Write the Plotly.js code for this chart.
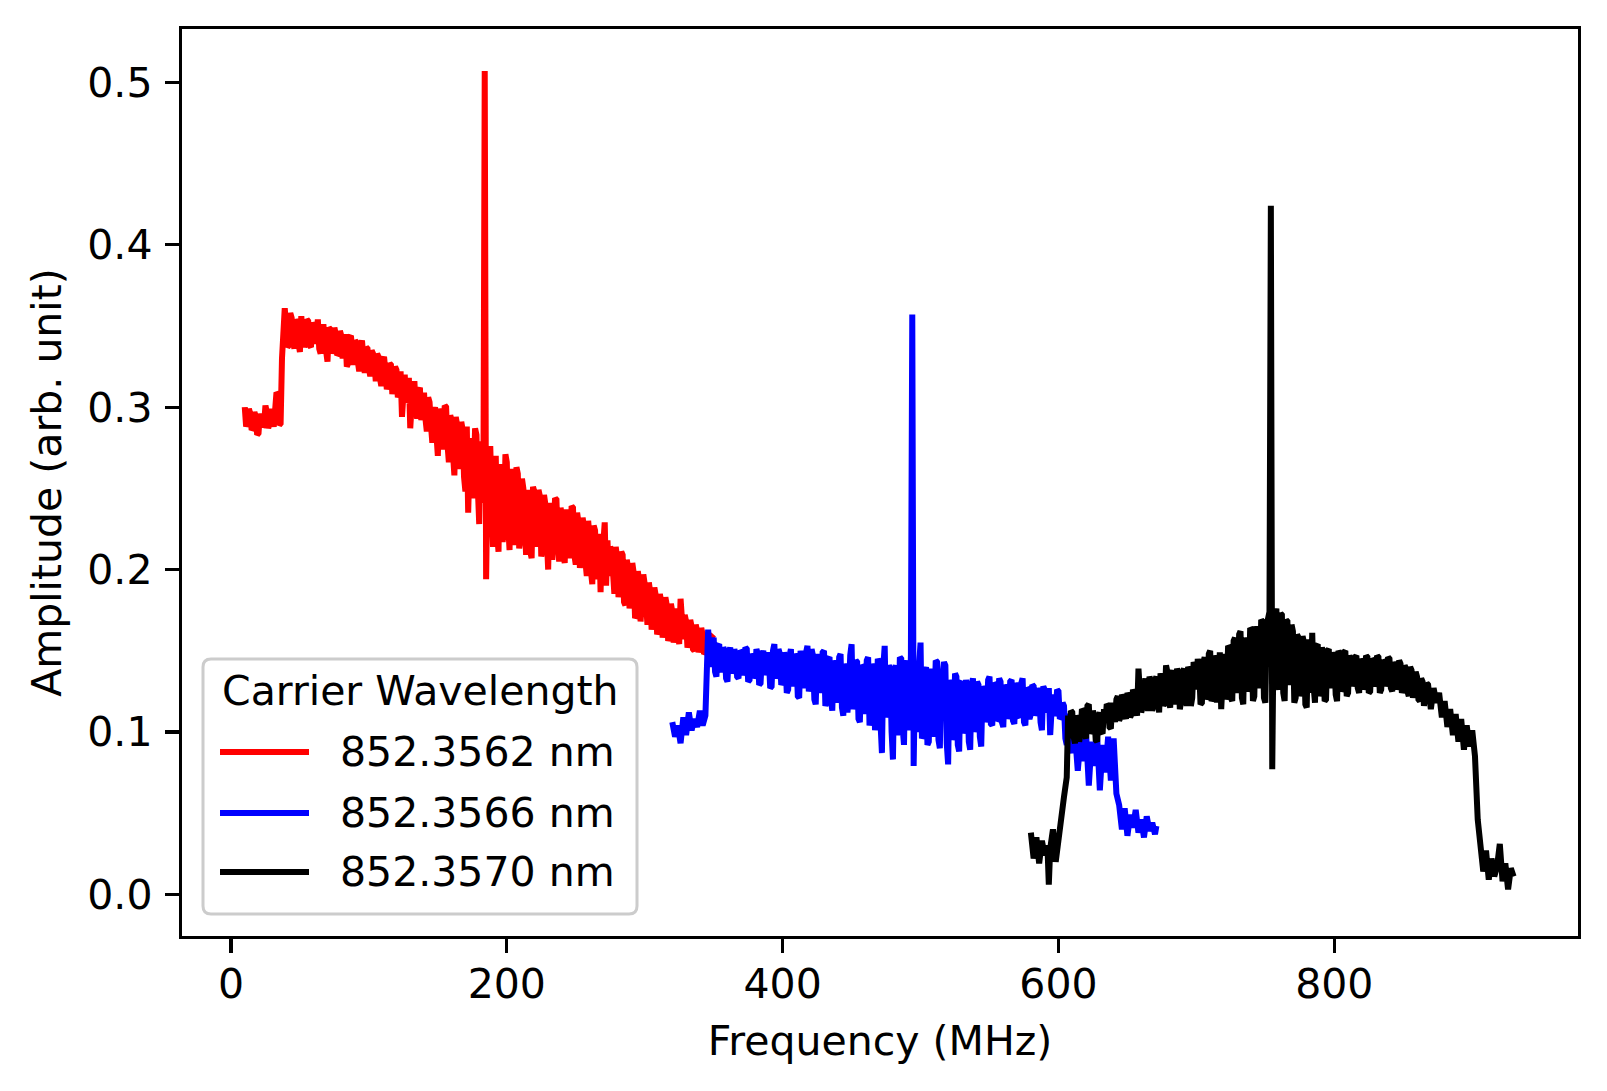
<!DOCTYPE html>
<html>
<head>
<meta charset="utf-8">
<script src="https://cdn.plot.ly/plotly-3.0.1.min.js"></script>
<style>
  html, body { margin: 0; padding: 0; background: #ffffff; }
  #chart { width: 1607px; height: 1091px; }
</style>
</head>
<body>
<div id="chart"></div>
<script>
// ---- data ----
var seriesNames = ["852.3562 nm", "852.3566 nm", "852.3570 nm"];
var seriesColors = ["#ff0000", "#0000ff", "#000000"];
var legendTitle = "Carrier Wavelength";
var xTitle = "Frequency (MHz)";
var yTitle = "Amplitude (arb. unit)";
var xTickVals = [0, 200, 400, 600, 800];
var yTickVals = [0.0, 0.1, 0.2, 0.3, 0.4, 0.5];

var redFreq = [
  10,11,12,13,14,15,16,17,18,19,
  20,21,22,23,24,25,26,27,28,29,
  30,31,32,33,34,35,36,37,
  38,39,40,41,42,43,44,45,46,47,
  48,49,50,51,52,53,54,55,56,57,
  58,59,60,61,62,63,64,65,66,67,
  68,69,70,71,72,73,74,75,76,77,
  78,79,80,81,82,83,84,85,86,87,
  88,89,90,91,92,93,94,95,96,97,
  98,99,100,101,102,103,104,105,106,107,
  108,109,110,111,112,113,114,115,116,117,
  118,119,120,121,122,123,124,125,126,127,
  128,129,130,131,132,133,134,135,136,137,138,
  139,140,141,142,143,144,145,146,147,148,
  149,150,151,152,153,154,155,156,157,158,
  159,160,161,162,163,164,165,166,167,168,
  169,170,171,172,173,174,175,176,177,178,
  179,180,181,182,183,
  184,185,
  186,187,188,189,190,191,192,193,194,195,
  196,197,198,199,200,201,202,203,204,205,
  206,207,208,209,210,211,212,213,214,215,
  216,217,218,219,220,221,222,223,224,225,
  226,227,228,229,230,231,232,233,234,235,
  236,237,238,239,240,241,242,243,244,245,
  246,247,248,249,250,251,252,253,254,255,
  256,257,258,259,260,261,262,263,264,265,
  266,267,268,269,270,271,272,273,274,275,
  276,277,278,279,280,281,282,283,284,285,
  286,287,288,289,290,291,292,293,294,295,
  296,297,298,299,300,301,302,303,304,305,
  306,307,308,309,310,311,312,313,314,315,
  316,317,318,319,320,321,322,323,324,325,
  326,327,328,329,330,331,332,333,334,335,
  336,337,338,339,340,341,342,343,344,345,
  346,347,348,349,350
];
var redAmp = [
  0.300,0.288,0.291,0.299,0.296,0.286,0.287,0.297,0.294,0.283,
  0.284,0.296,0.293,0.288,0.289,0.301,0.297,0.287,0.290,0.299,
  0.292,0.288,0.298,0.309,0.308,0.289,0.290,0.330,
  0.357,0.361,0.350,0.337,0.338,0.358,0.355,0.341,0.336,0.354,
  0.352,0.339,0.334,0.356,0.349,0.337,0.340,0.354,0.353,0.338,
  0.337,0.352,0.350,0.339,0.352,0.354,0.336,0.333,0.347,0.351,
  0.341,0.334,0.328,0.349,0.348,0.333,0.337,0.349,0.345,0.332,
  0.333,0.347,0.344,0.330,0.339,0.345,0.325,0.327,0.343,0.344,
  0.334,0.326,0.341,0.340,0.328,0.322,0.338,0.341,0.331,0.321,
  0.337,0.336,0.324,0.319,0.335,0.333,0.327,0.316,0.333,0.331,
  0.318,0.313,0.329,0.331,0.322,0.311,0.314,0.327,0.326,0.308,
  0.317,0.325,0.323,0.306,0.309,0.322,0.294,0.318,0.320,0.303,
  0.305,0.318,0.287,0.301,0.314,0.316,0.299,0.293,0.310,0.312,0.292,
  0.298,0.309,0.293,0.285,0.306,0.303,0.289,0.278,0.296,0.300,
  0.283,0.270,0.299,0.296,0.274,0.282,0.301,0.300,0.277,0.266,
  0.295,0.292,0.271,0.258,0.294,0.289,0.268,0.262,0.291,0.286,
  0.257,0.248,0.288,0.235,0.266,0.281,0.244,0.252,0.287,0.283,
  0.250,0.228,0.279,0.262,0.241,
  0.507,0.194,
  0.255,0.231,0.276,0.248,0.214,0.262,0.270,0.222,0.211,0.265,
  0.258,0.217,0.226,0.271,0.266,0.228,0.212,0.262,0.255,0.215,
  0.234,0.263,0.259,0.213,0.219,0.256,0.250,0.226,0.209,0.249,
  0.242,0.211,0.207,0.251,0.248,0.214,0.229,0.249,0.245,0.208,
  0.213,0.246,0.240,0.218,0.200,0.241,0.236,0.206,0.219,0.244,
  0.243,0.215,0.205,0.238,0.233,0.210,0.204,0.237,0.230,0.207,
  0.215,0.239,0.238,0.209,0.203,0.235,0.229,0.201,0.211,0.232,
  0.226,0.205,0.196,0.230,0.220,0.199,0.191,0.227,0.224,0.194,
  0.205,0.222,0.186,0.219,0.216,0.229,0.190,0.218,0.196,0.214,
  0.212,0.188,0.185,0.214,0.207,0.183,0.190,0.211,0.209,0.180,
  0.178,0.206,0.201,0.176,0.183,0.204,0.198,0.170,0.172,0.199,
  0.193,0.168,0.179,0.197,0.191,0.167,0.166,0.192,0.186,0.163,
  0.171,0.189,0.184,0.160,0.163,0.185,0.180,0.158,0.168,0.183,
  0.178,0.156,0.159,0.179,0.174,0.155,0.162,0.176,0.170,0.154,
  0.182,0.160,0.157,0.172,0.168,0.152,0.155,0.169,0.165,0.151,
  0.150,0.166,0.162,0.149,0.153,0.164,0.160,0.148,0.149,0.161,
  0.158,0.150,0.152,0.159,0.160
];

var blueFreq = [
  320,322,324,326,328,330,332,334,336,338,
  340,342,344,
  346,347,348,349,350,351,352,353,354,355,
  356,357,358,359,360,361,362,363,364,365,
  366,367,368,369,370,371,372,373,374,375,
  376,377,378,379,380,381,382,383,384,385,
  386,387,388,389,390,391,392,393,394,395,
  396,397,398,399,
  400,401,402,403,404,405,406,407,408,409,
  410,411,412,413,414,415,416,417,418,419,
  420,421,422,423,424,425,426,427,428,429,
  430,431,432,433,434,435,436,437,438,439,
  440,441,442,443,444,445,446,447,448,449,
  450,451,452,453,454,455,456,457,458,459,
  460,461,462,463,464,465,466,467,468,469,
  470,471,472,473,474,475,476,477,478,479,
  480,481,482,483,484,485,486,487,488,489,
  490,491,492,493,
  494,495,
  496,497,498,499,500,501,502,503,504,505,
  506,507,508,509,510,511,512,513,514,515,
  516,517,518,519,520,521,522,523,524,525,
  526,527,528,529,530,531,532,533,534,535,
  536,537,538,539,540,541,542,543,544,545,
  546,547,548,549,550,551,552,553,554,555,
  556,557,558,559,560,561,562,563,564,565,
  566,567,568,569,570,571,572,573,574,575,
  576,577,578,579,580,581,582,583,584,585,
  586,587,588,589,590,591,592,593,594,595,
  596,597,598,599,600,601,602,603,604,605,
  606,607,608,609,610,611,612,
  614,616,618,620,622,624,626,628,630,632,
  634,636,638,640,642,644,646,648,650,652,
  654,656,658,660,662,664,666,668,670,
  671
];
var blueAmp = [
  0.106,0.097,0.104,0.093,0.109,0.098,0.112,0.101,0.108,0.103,
  0.113,0.104,0.110,
  0.163,0.150,0.140,0.155,0.158,0.137,0.134,0.153,0.154,0.139,
  0.137,0.152,0.150,0.133,0.131,0.149,0.152,0.136,0.139,0.151,
  0.147,0.134,0.133,0.150,0.149,0.135,0.138,0.152,0.151,0.131,
  0.132,0.148,0.146,0.133,0.136,0.151,0.148,0.129,0.130,0.147,
  0.150,0.135,0.139,0.149,0.145,0.127,0.128,0.150,0.154,0.133,
  0.136,0.151,0.148,0.129,
  0.131,0.149,0.145,0.124,0.126,0.147,0.151,0.128,0.134,0.148,
  0.146,0.122,0.121,0.150,0.144,0.127,0.132,0.149,0.153,0.125,
  0.129,0.151,0.147,0.120,0.117,0.148,0.143,0.124,0.131,0.149,
  0.150,0.116,0.119,0.145,0.146,0.121,0.113,0.144,0.141,0.118,
  0.127,0.146,0.148,0.115,0.110,0.142,0.139,0.112,0.123,0.147,
  0.154,0.114,0.118,0.144,0.143,0.108,0.106,0.141,0.140,0.111,
  0.121,0.144,0.146,0.104,0.109,0.142,0.138,0.101,0.114,0.145,
  0.143,0.105,0.087,0.140,0.153,0.109,0.112,0.141,0.139,0.100,
  0.083,0.138,0.141,0.098,0.104,0.146,0.145,0.103,0.092,0.140,
  0.144,0.101,0.110,0.147,
  0.357,0.079,
  0.131,0.100,0.106,0.142,0.155,0.096,0.098,0.137,0.140,0.092,
  0.094,0.139,0.133,0.097,0.112,0.144,0.143,0.095,0.090,0.138,
  0.135,0.143,0.141,0.093,0.080,0.132,0.128,0.095,0.101,0.136,
  0.134,0.092,0.088,0.130,0.131,0.099,0.106,0.132,0.125,0.094,
  0.089,0.129,0.133,0.100,0.104,0.131,0.129,0.097,0.091,0.128,
  0.126,0.106,0.110,0.132,0.134,0.105,0.104,0.130,0.129,0.107,
  0.108,0.133,0.131,0.106,0.103,0.129,0.127,0.108,0.112,0.131,
  0.132,0.107,0.105,0.130,0.128,0.110,0.109,0.130,0.133,0.106,
  0.104,0.127,0.126,0.108,0.111,0.129,0.128,0.110,0.113,0.127,
  0.124,0.106,0.101,0.128,0.126,0.112,0.115,0.127,0.098,0.113,
  0.123,0.110,0.112,0.126,0.125,0.108,0.109,0.118,0.116,0.096,
  0.092,0.108,0.111,0.090,0.087,0.101,0.099,
  0.076,0.096,0.082,0.099,0.067,0.094,0.079,0.098,0.064,0.092,
  0.075,0.097,0.070,0.096,0.062,0.055,0.040,0.053,0.036,0.049,
  0.041,0.052,0.038,0.046,0.035,0.048,0.039,0.044,0.037,
  0.042
];

var blackFreq = [
  580,582,584,586,588,590,592,
  593,
  594,596,598,600,602,604,606,
  607,
  608,609,610,611,612,613,614,615,616,617,
  618,619,620,621,622,623,624,625,626,627,
  628,629,630,631,632,633,634,635,636,637,
  638,639,640,641,642,643,644,645,646,647,
  648,649,650,651,652,653,654,655,656,657,
  658,659,660,661,662,663,664,665,666,667,
  668,669,670,671,672,673,674,675,676,677,
  678,679,680,681,682,683,684,685,686,687,
  688,689,690,691,692,693,694,695,696,697,
  698,699,
  700,701,702,703,704,705,706,707,708,709,
  710,711,712,713,714,715,716,717,718,719,
  720,721,722,723,724,725,726,727,728,729,
  730,731,732,733,734,735,736,737,738,739,
  740,741,742,743,744,745,746,747,748,749,
  750,751,752,753,
  754,755,
  756,757,758,759,760,761,762,763,764,765,
  766,767,768,769,770,771,772,773,774,775,
  776,777,778,779,780,781,782,783,784,785,
  786,787,788,789,790,791,792,793,794,795,
  796,797,798,799,800,801,802,803,804,805,
  806,807,808,809,810,811,812,813,814,815,
  816,817,818,819,820,821,822,823,824,825,
  826,827,828,829,830,831,832,833,834,835,
  836,837,838,839,840,841,842,843,844,845,
  846,847,848,849,850,851,852,853,854,855,
  856,857,858,859,860,861,862,863,864,865,
  866,867,868,869,870,
  872,874,876,878,880,882,884,886,888,890,
  892,894,896,898,900,902,904,906,908,910,
  912,914,916,918,920,922,924,926,928,930
];
var blackAmp = [
  0.038,0.022,0.035,0.019,0.033,0.024,0.030,
  0.006,
  0.028,0.040,0.020,0.036,0.050,0.060,0.072,
  0.110,
  0.096,0.113,0.112,0.097,0.093,0.110,0.108,0.094,0.099,0.114,
  0.113,0.098,0.096,0.116,0.117,0.099,0.101,0.113,0.110,0.095,
  0.094,0.109,0.112,0.100,0.099,0.114,0.106,0.117,0.116,0.103,
  0.102,0.118,0.109,0.106,0.120,0.122,0.107,0.109,0.123,0.121,
  0.111,0.108,0.124,0.122,0.109,0.111,0.126,0.124,0.115,0.110,
  0.139,0.127,0.112,0.115,0.131,0.133,0.118,0.113,0.134,0.131,
  0.113,0.116,0.132,0.134,0.121,0.112,0.136,0.133,0.116,0.118,
  0.141,0.137,0.118,0.115,0.135,0.138,0.122,0.117,0.139,0.136,
  0.114,0.119,0.137,0.139,0.124,0.116,0.140,0.138,0.116,0.121,
  0.143,0.140,
  0.126,0.145,0.139,0.117,0.118,0.143,0.146,0.120,0.123,0.148,
  0.150,0.119,0.121,0.147,0.144,0.118,0.130,0.149,0.114,0.141,
  0.148,0.120,0.125,0.153,0.152,0.121,0.119,0.156,0.158,0.124,
  0.131,0.160,0.162,0.121,0.117,0.158,0.155,0.125,0.128,0.164,
  0.163,0.119,0.122,0.165,0.160,0.127,0.134,0.169,0.168,0.121,
  0.118,0.166,0.172,0.174,
  0.424,0.077,
  0.163,0.175,0.176,0.131,0.126,0.173,0.172,0.124,0.119,0.169,
  0.168,0.129,0.137,0.166,0.162,0.118,0.121,0.160,0.158,0.122,
  0.127,0.159,0.155,0.117,0.115,0.157,0.151,0.124,0.161,0.128,
  0.118,0.153,0.154,0.122,0.126,0.152,0.149,0.119,0.120,0.150,
  0.151,0.127,0.132,0.149,0.146,0.123,0.119,0.150,0.148,0.125,
  0.127,0.149,0.150,0.122,0.124,0.147,0.145,0.128,0.133,0.146,
  0.147,0.127,0.124,0.145,0.143,0.126,0.130,0.147,0.146,0.124,
  0.125,0.145,0.144,0.128,0.131,0.147,0.146,0.124,0.126,0.144,
  0.143,0.128,0.133,0.146,0.145,0.127,0.125,0.143,0.141,0.126,
  0.130,0.144,0.142,0.124,0.127,0.141,0.139,0.125,0.122,0.140,
  0.138,0.121,0.126,0.137,0.134,0.120,0.119,0.133,0.131,0.116,
  0.123,0.130,0.129,0.115,0.114,
  0.127,0.118,0.124,0.109,0.119,0.103,0.114,0.098,0.111,0.094,
  0.108,0.089,0.104,0.091,0.101,0.085,0.046,0.025,0.014,0.027,
  0.009,0.022,0.011,0.017,0.031,0.008,0.019,0.003,0.016,0.011
];

// ---- figure construction ----
var FONT = "DejaVu Sans, Liberation Sans, sans-serif";
var FS = 41;
var W = 1607, H = 1091;
var M = {l: 182, r: 29, t: 29, b: 155};
var plotW = W - M.l - M.r, plotH = H - M.t - M.b;
function px2paperX(p) { return (p - M.l) / plotW; }
function px2paperY(p) { return (H - M.b - p) / plotH; }

var freqs = [redFreq, blueFreq, blackFreq];
var amps = [redAmp, blueAmp, blackAmp];
var traces = [];
for (var i = 0; i < 3; i++) {
  if (freqs[i].length !== amps[i].length) {
    throw new Error("length mismatch in series " + i + ": " + freqs[i].length + " vs " + amps[i].length);
  }
  traces.push({
    type: "scatter", mode: "lines",
    x: freqs[i], y: amps[i], name: seriesNames[i],
    line: {color: seriesColors[i], width: 6, shape: "linear"},
    hoverinfo: "skip", showlegend: false
  });
}

// matplotlib-like legend (box, lines, texts)
var box = {x0: px2paperX(203), x1: px2paperX(637), y0: px2paperY(914), y1: px2paperY(659)};
var rx = 8 / plotW, ry = 8 / plotH;
var boxPath = "M" + (box.x0 + rx) + "," + box.y0 +
  " L" + (box.x1 - rx) + "," + box.y0 +
  " Q" + box.x1 + "," + box.y0 + " " + box.x1 + "," + (box.y0 + ry) +
  " L" + box.x1 + "," + (box.y1 - ry) +
  " Q" + box.x1 + "," + box.y1 + " " + (box.x1 - rx) + "," + box.y1 +
  " L" + (box.x0 + rx) + "," + box.y1 +
  " Q" + box.x0 + "," + box.y1 + " " + box.x0 + "," + (box.y1 - ry) +
  " L" + box.x0 + "," + (box.y0 + ry) +
  " Q" + box.x0 + "," + box.y0 + " " + (box.x0 + rx) + "," + box.y0 + " Z";

var shapes = [{
  type: "path", xref: "paper", yref: "paper", path: boxPath,
  fillcolor: "rgba(255,255,255,0.8)", line: {color: "#cccccc", width: 3}, layer: "above"
}];
var annotations = [{
  xref: "paper", yref: "paper", x: px2paperX(420), y: px2paperY(691),
  xanchor: "center", yanchor: "middle", showarrow: false, text: legendTitle,
  font: {family: FONT, size: FS, color: "#000000"}
}];
var entryY = [752, 813, 872];
for (var k = 0; k < 3; k++) {
  shapes.push({
    type: "line", xref: "paper", yref: "paper",
    x0: px2paperX(220), x1: px2paperX(309), y0: px2paperY(entryY[k]), y1: px2paperY(entryY[k]),
    line: {color: seriesColors[k], width: 6}, layer: "above"
  });
  annotations.push({
    xref: "paper", yref: "paper", x: px2paperX(338), y: px2paperY(entryY[k]),
    xanchor: "left", yanchor: "middle", showarrow: false, text: seriesNames[k],
    font: {family: FONT, size: FS, color: "#000000"}
  });
}

var axisCommon = {
  showgrid: false, zeroline: false, showline: true, mirror: true,
  linecolor: "#000000", linewidth: 3.3,
  ticks: "outside", ticklen: 14, tickwidth: 3.3, tickcolor: "#000000",
  tickfont: {family: FONT, size: FS, color: "#000000"},
  fixedrange: true
};

var layout = {
  width: W, height: H,
  margin: {l: M.l, r: M.r, t: M.t, b: M.b, pad: 0},
  paper_bgcolor: "#ffffff", plot_bgcolor: "#ffffff",
  font: {family: FONT, size: FS, color: "#000000"},
  showlegend: false,
  xaxis: Object.assign({}, axisCommon, {
    range: [-35.5, 976.7], tickmode: "array", tickvals: xTickVals,
    ticktext: xTickVals.map(function (v) { return String(v); }),
    ticklabelstandoff: -5,
    title: {text: xTitle, font: {family: FONT, size: FS, color: "#000000"}, standoff: 20}
  }),
  yaxis: Object.assign({}, axisCommon, {
    range: [-0.0257, 0.5329], tickmode: "array", tickvals: yTickVals,
    ticktext: yTickVals.map(function (v) { return v.toFixed(1); }),
    ticklabelstandoff: 4,
    title: {text: yTitle, font: {family: FONT, size: FS, color: "#000000"}, standoff: 14}
  }),
  shapes: shapes,
  annotations: annotations
};

Plotly.newPlot("chart", traces, layout, {displayModeBar: false, staticPlot: true});
</script>
</body>
</html>
